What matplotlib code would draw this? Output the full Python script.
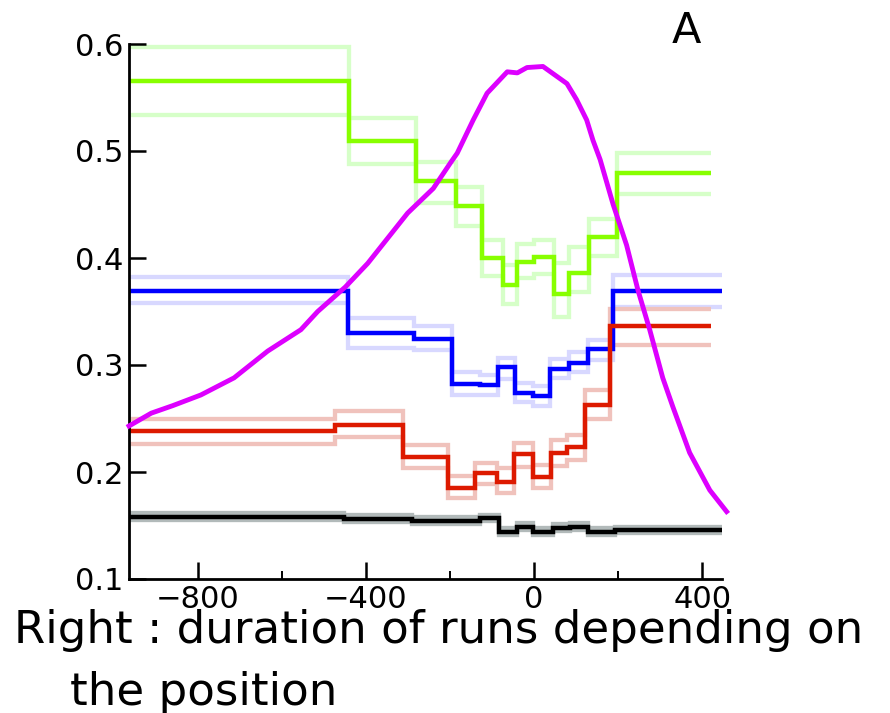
import matplotlib

matplotlib.use("Agg")
import matplotlib.pyplot as plt

# Step series: bin edges, central value, upper and lower band
GREEN_EDGES = [-964, -441, -282, -187, -124, -73, -41, 0, 47, 83, 131, 197, 422]
GREEN_MID = [0.565, 0.509, 0.472, 0.449, 0.400, 0.375, 0.396, 0.401, 0.366, 0.386, 0.420, 0.479]
GREEN_UP = [0.597, 0.531, 0.490, 0.466, 0.417, 0.393, 0.413, 0.417, 0.395, 0.410, 0.436, 0.498]
GREEN_LO = [0.534, 0.488, 0.451, 0.430, 0.383, 0.357, 0.381, 0.385, 0.345, 0.368, 0.402, 0.460]

BLUE_EDGES = [-964, -444, -287, -195, -128, -85, -45, -2, 38, 83, 128, 187, 453]
BLUE_MID = [0.369, 0.330, 0.324, 0.282, 0.281, 0.298, 0.274, 0.271, 0.296, 0.302, 0.315, 0.369]
BLUE_UP = [0.382, 0.344, 0.336, 0.293, 0.291, 0.307, 0.283, 0.280, 0.306, 0.312, 0.323, 0.384]
BLUE_LO = [0.358, 0.316, 0.314, 0.272, 0.272, 0.287, 0.265, 0.262, 0.288, 0.293, 0.305, 0.354]

RED_EDGES = [-964, -475, -311, -206, -140, -88, -49, -2, 40, 78, 121, 180, 422]
RED_MID = [0.238, 0.244, 0.214, 0.185, 0.199, 0.191, 0.217, 0.195, 0.218, 0.223, 0.263, 0.336]
RED_UP = [0.250, 0.257, 0.225, 0.196, 0.208, 0.204, 0.227, 0.207, 0.230, 0.235, 0.277, 0.352]
RED_LO = [0.226, 0.233, 0.204, 0.176, 0.189, 0.180, 0.205, 0.185, 0.206, 0.211, 0.250, 0.319]

BLACK_EDGES = [-964, -452, -290, -128, -83, -41, -2, 45, 85, 128, 192, 446]
BLACK_MID = [0.158, 0.156, 0.154, 0.157, 0.144, 0.149, 0.144, 0.148, 0.149, 0.144, 0.146]
BLACK_UP = [0.162, 0.160, 0.158, 0.160, 0.148, 0.152, 0.148, 0.151, 0.152, 0.148, 0.149]
BLACK_LO = [0.155, 0.153, 0.151, 0.154, 0.141, 0.146, 0.141, 0.145, 0.146, 0.141, 0.143]

# Magenta profile
PROF_X = [-964, -911, -860, -793, -714, -634, -555, -515, -449, -396, -301, -240,
          -199, -183, -145, -112, -64, -40, -17, 21, 78, 101, 125, 140, 157, 188,
          220, 247, 275, 306, 330, 370, 418, 458]
PROF_Y = [0.243, 0.255, 0.262, 0.272, 0.288, 0.313, 0.333, 0.350, 0.373, 0.395,
          0.442, 0.465, 0.489, 0.498, 0.529, 0.554, 0.574, 0.573, 0.578, 0.579,
          0.563, 0.548, 0.529, 0.510, 0.492, 0.450, 0.412, 0.370, 0.333, 0.288,
          0.261, 0.218, 0.183, 0.163]

YTICKS = [0.1, 0.2, 0.3, 0.4, 0.5, 0.6]
XTICKS = [-800, -400, 0, 400]
XMINOR = [-600, -200, 200]

SERIES = [
    (GREEN_EDGES, GREEN_MID, GREEN_UP, GREEN_LO, "#88ff00", "#d6ffc8"),
    (BLUE_EDGES, BLUE_MID, BLUE_UP, BLUE_LO, "#0000ff", "#d8d8ff"),
    (RED_EDGES, RED_MID, RED_UP, RED_LO, "#dd1a00", "#f0c2bc"),
    (BLACK_EDGES, BLACK_MID, BLACK_UP, BLACK_LO, "#000000", "#b2baba"),
]

fig = plt.figure(figsize=(8.9, 7.13), dpi=100)
ax = fig.add_axes([129 / 890, 1 - 579 / 713, (722 - 129) / 890, (579 - 44) / 713])

# light bands first, then the central lines on top
for edges, mid, up, lo, col, light in SERIES:
    ax.stairs(up, edges, baseline=None, color=light, lw=3.1, zorder=1)
    ax.stairs(lo, edges, baseline=None, color=light, lw=3.1, zorder=1)
for edges, mid, up, lo, col, light in SERIES:
    ax.stairs(mid, edges, baseline=None, color=col, lw=3.2, zorder=2)

ax.plot(PROF_X, PROF_Y, color="#dd00ff", lw=3.5, zorder=3, clip_on=False)

ax.set_xlim(-964, 447)
ax.set_ylim(0.1, 0.6)
ax.set_yticks(YTICKS)
ax.set_yticklabels([f"{v:.1f}" for v in YTICKS])
ax.set_xticks(XTICKS)
ax.set_xticklabels([str(v).replace("-", "\u2212") for v in XTICKS])
ax.set_xticks(XMINOR, minor=True)

for s in ("top", "right"):
    ax.spines[s].set_visible(False)
for s in ("left", "bottom"):
    ax.spines[s].set_linewidth(2.0)

ax.tick_params(axis="both", which="major", direction="in", length=12, width=1.8,
               labelsize=22, pad=4)
ax.tick_params(axis="x", which="minor", direction="in", length=6, width=1.4)

fig.text(686 / 890, 1 - 43 / 713, "A", ha="center", va="baseline", fontsize=31)

fig.text(14 / 890, 1 - 643 / 713, "Right : duration of runs depending on",
         ha="left", va="baseline", fontsize=32.5)
fig.text(70 / 890, 1 - 705 / 713, "the position",
         ha="left", va="baseline", fontsize=32.5)

fig.savefig("out.png", dpi=100)
